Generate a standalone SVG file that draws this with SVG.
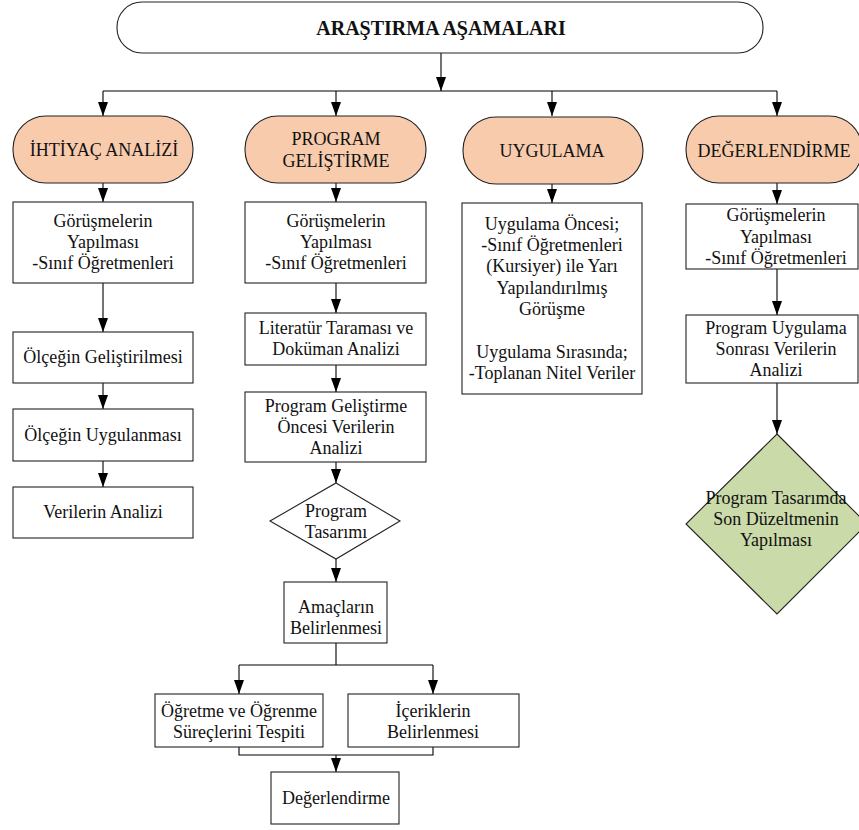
<svg xmlns="http://www.w3.org/2000/svg" width="859" height="830" viewBox="0 0 859 830">
  <defs>
    <marker id="arrow" markerUnits="userSpaceOnUse" markerWidth="15" markerHeight="11" refX="14" refY="5.5" orient="auto">
      <path d="M0,0.5 L14,5.5 L0,10.5 z" fill="#000"/>
    </marker>
    <style>
      .pill { fill: #F8CBAD; stroke: #222; stroke-width: 1.1; }
      .box { fill: #fff; stroke: #222; stroke-width: 1.1; }
      .top { fill: #fff; stroke: #222; stroke-width: 1.1; }
      .dia { fill: #fff; stroke: #222; stroke-width: 1.1; }
      .dia-green { fill: #CADAA8; stroke: #222; stroke-width: 1.1; }
      .conn line, .conn path { stroke: #000; stroke-width: 1.1; fill: none; }
      .arr { marker-end: url(#arrow); }
      text { font-size: 18px; fill: #111; text-anchor: middle; dominant-baseline: central; }
      .title { font-weight: bold; font-size: 20px; }
    </style>
  </defs>

  <rect width="859" height="830" fill="#fff"/>

  <!-- connectors -->
  <g id="connectors" class="conn">
    <line class="arr" x1="441" y1="53" x2="441" y2="91"/>
    <line x1="103" y1="91" x2="777" y2="91"/>
    <line class="arr" x1="103" y1="91" x2="103" y2="116"/>
    <line class="arr" x1="336" y1="91" x2="336" y2="116"/>
    <line class="arr" x1="552" y1="91" x2="552" y2="116"/>
    <line class="arr" x1="777" y1="91" x2="777" y2="116"/>

    <!-- column 1 -->
    <line class="arr" x1="103" y1="183" x2="103" y2="202"/>
    <line class="arr" x1="103" y1="283" x2="103" y2="332"/>
    <line class="arr" x1="103" y1="383" x2="103" y2="409"/>
    <line class="arr" x1="103" y1="461" x2="103" y2="487"/>

    <!-- column 2 -->
    <line class="arr" x1="336" y1="183" x2="336" y2="202"/>
    <line class="arr" x1="336" y1="283" x2="336" y2="313"/>
    <line class="arr" x1="336" y1="365" x2="336" y2="392"/>
    <line class="arr" x1="336" y1="462" x2="336" y2="483"/>
    <line class="arr" x1="336" y1="559" x2="336" y2="582"/>
    <path d="M336,643 V665 M239,665 H433"/>
    <line class="arr" x1="239" y1="665" x2="239" y2="694"/>
    <line class="arr" x1="433" y1="665" x2="433" y2="694"/>
    <path d="M239,747 V755 H433 V747"/>
    <line class="arr" x1="336" y1="755" x2="336" y2="772"/>

    <!-- column 3 -->
    <line class="arr" x1="552" y1="184" x2="552" y2="203"/>

    <!-- column 4 -->
    <line class="arr" x1="777" y1="183" x2="777" y2="204"/>
    <line class="arr" x1="777" y1="269" x2="777" y2="315"/>
    <line class="arr" x1="777" y1="383" x2="777" y2="434"/>
  </g>

  <g font-family="'Liberation Serif', 'DejaVu Serif', serif">
  <!-- root -->
  <g id="root">
    <rect class="top" x="117" y="2" width="646" height="51" rx="25" ry="25"/>
    <text class="title" x="441" y="28">ARAŞTIRMA AŞAMALARI</text>
  </g>

  <!-- phase headers -->
  <g id="ihtiyac-analizi">
    <rect class="pill" x="13" y="116" width="180" height="67" rx="33" ry="33"/>
    <text x="104" y="150">İHTİYAÇ ANALİZİ</text>
  </g>
  <g id="program-gelistirme">
    <rect class="pill" x="245" y="116" width="181" height="67" rx="33" ry="33"/>
    <text x="336" y="139">PROGRAM</text>
    <text x="336" y="161">GELİŞTİRME</text>
  </g>
  <g id="uygulama">
    <rect class="pill" x="463" y="117" width="180" height="67" rx="33" ry="33"/>
    <text x="552" y="151">UYGULAMA</text>
  </g>
  <g id="degerlendirme">
    <rect class="pill" x="686" y="116" width="176" height="67" rx="33" ry="33"/>
    <text x="774" y="151">DEĞERLENDİRME</text>
  </g>

  <!-- column 1 -->
  <g id="c1-gorusme">
    <rect class="box" x="13" y="202" width="180" height="81"/>
    <text x="103" y="221">Görüşmelerin</text>
    <text x="103" y="242">Yapılması</text>
    <text x="103" y="263">-Sınıf Öğretmenleri</text>
  </g>
  <g id="c1-olcek-gelistirme">
    <rect class="box" x="13" y="332" width="180" height="51"/>
    <text x="103" y="357">Ölçeğin Geliştirilmesi</text>
  </g>
  <g id="c1-olcek-uygulama">
    <rect class="box" x="13" y="409" width="180" height="52"/>
    <text x="103" y="435">Ölçeğin Uygulanması</text>
  </g>
  <g id="c1-veri-analizi">
    <rect class="box" x="13" y="487" width="180" height="51"/>
    <text x="103" y="512">Verilerin Analizi</text>
  </g>

  <!-- column 2 -->
  <g id="c2-gorusme">
    <rect class="box" x="245" y="202" width="181" height="81"/>
    <text x="336" y="221">Görüşmelerin</text>
    <text x="336" y="242">Yapılması</text>
    <text x="336" y="263">-Sınıf Öğretmenleri</text>
  </g>
  <g id="c2-literatur">
    <rect class="box" x="245" y="313" width="181" height="52"/>
    <text x="336" y="328">Literatür Taraması ve</text>
    <text x="336" y="349">Doküman Analizi</text>
  </g>
  <g id="c2-oncesi-veri">
    <rect class="box" x="245" y="392" width="181" height="70"/>
    <text x="336" y="406">Program Geliştirme</text>
    <text x="336" y="427">Öncesi Verilerin</text>
    <text x="336" y="448">Analizi</text>
  </g>
  <g id="c2-tasarim">
    <polygon class="dia" points="336,483 400,521 336,559 270,521"/>
    <text x="336" y="511">Program</text>
    <text x="336" y="532">Tasarımı</text>
  </g>
  <g id="c2-amaclar">
    <rect class="box" x="284" y="582" width="103" height="61"/>
    <text x="336" y="607">Amaçların</text>
    <text x="336" y="628">Belirlenmesi</text>
  </g>
  <g id="c2-surecler">
    <rect class="box" x="155" y="694" width="168" height="53"/>
    <text x="239" y="711">Öğretme ve Öğrenme</text>
    <text x="239" y="732">Süreçlerini Tespiti</text>
  </g>
  <g id="c2-icerikler">
    <rect class="box" x="348" y="694" width="171" height="53"/>
    <text x="433" y="711">İçeriklerin</text>
    <text x="433" y="732">Belirlenmesi</text>
  </g>
  <g id="c2-degerlendirme">
    <rect class="box" x="271" y="772" width="128" height="52"/>
    <text x="336" y="798">Değerlendirme</text>
  </g>

  <!-- column 3 -->
  <g id="c3-uygulama">
    <rect class="box" x="462" y="203" width="180" height="191"/>
    <text x="552" y="224">Uygulama Öncesi;</text>
    <text x="552" y="245">-Sınıf Öğretmenleri</text>
    <text x="552" y="266">(Kursiyer) ile Yarı</text>
    <text x="552" y="288">Yapılandırılmış</text>
    <text x="552" y="309">Görüşme</text>
    <text x="552" y="352">Uygulama Sırasında;</text>
    <text x="552" y="373">-Toplanan Nitel Veriler</text>
  </g>

  <!-- column 4 -->
  <g id="c4-gorusme">
    <rect class="box" x="686" y="204" width="172" height="65"/>
    <text x="776" y="215">Görüşmelerin</text>
    <text x="776" y="237">Yapılması</text>
    <text x="776" y="258">-Sınıf Öğretmenleri</text>
  </g>
  <g id="c4-sonrasi-veri">
    <rect class="box" x="686" y="315" width="172" height="68"/>
    <text x="776" y="328">Program Uygulama</text>
    <text x="776" y="349">Sonrası Verilerin</text>
    <text x="776" y="370">Analizi</text>
  </g>
  <g id="c4-son-duzeltme">
    <polygon class="dia-green" points="777,434 867,524 777,614 686,524"/>
    <text x="776" y="498">Program Tasarımda</text>
    <text x="776" y="519">Son Düzeltmenin</text>
    <text x="776" y="540">Yapılması</text>
  </g>
  </g>
</svg>
